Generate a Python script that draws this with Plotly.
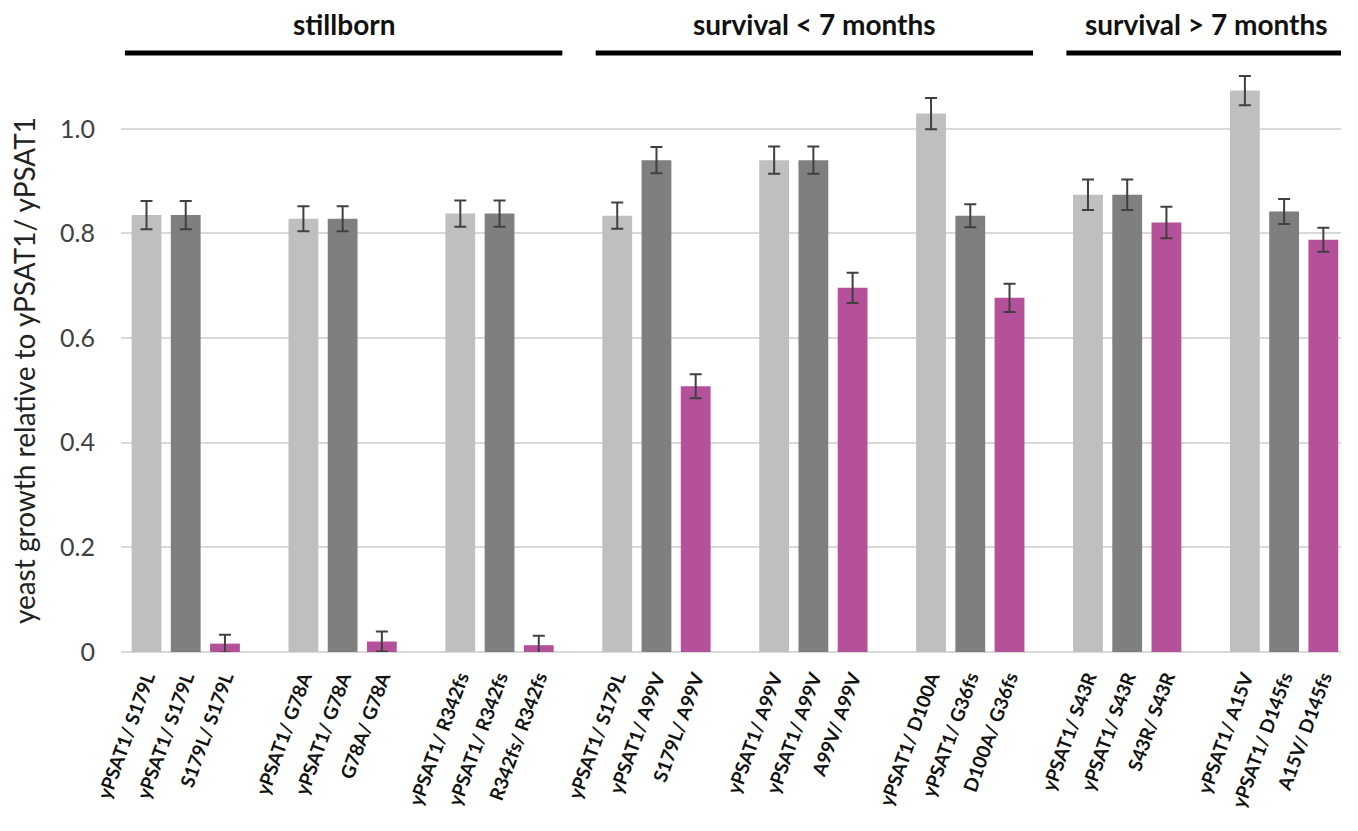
import plotly.graph_objects as go

# ---- data ----
wt_labels = ["yPSAT1/ S179L", "yPSAT1/ G78A", "yPSAT1/ R342fs", "yPSAT1/ S179L",
             "yPSAT1/ A99V", "yPSAT1/ D100A", "yPSAT1/ S43R", "yPSAT1/ A15V"]
het_labels = ["yPSAT1/ S179L", "yPSAT1/ G78A", "yPSAT1/ R342fs", "yPSAT1/ A99V",
              "yPSAT1/ A99V", "yPSAT1/ G36fs", "yPSAT1/ S43R", "yPSAT1/ D145fs"]
mut_labels = ["S179L/ S179L", "G78A/ G78A", "R342fs/ R342fs", "S179L/ A99V",
              "A99V/ A99V", "D100A/ G36fs", "S43R/ S43R", "A15V/ D145fs"]

light_vals = [0.835, 0.828, 0.838, 0.834, 0.940, 1.029, 0.874, 1.073]
light_err = [0.027, 0.024, 0.025, 0.025, 0.026, 0.030, 0.029, 0.028]
dark_vals = [0.835, 0.828, 0.838, 0.940, 0.940, 0.834, 0.874, 0.842]
dark_err = [0.027, 0.024, 0.025, 0.025, 0.026, 0.022, 0.029, 0.024]
pink_vals = [0.016, 0.020, 0.013, 0.508, 0.696, 0.677, 0.821, 0.788]
pink_err = [0.017, 0.019, 0.018, 0.023, 0.029, 0.027, 0.030, 0.023]

header_names = ["stillborn", "survival < 7 months", "survival > 7 months"]
header_group_counts = [3, 3, 2]

y_title = "yeast growth relative to yPSAT1/ yPSAT1"
y_tickvals = [0, 0.2, 0.4, 0.6, 0.8, 1.0]
y_ticktext = ["0", "0.2", "0.4", "0.6", "0.8", "1.0"]

# ---- layout helpers ----
SLOT = 4  # 3 bars + 1 gap per group
n = len(light_vals)
x_light = [SLOT * g + 0 for g in range(n)]
x_dark = [SLOT * g + 1 for g in range(n)]
x_pink = [SLOT * g + 2 for g in range(n)]
BW = 0.76
FONT = "Lato, 'Open Sans', sans-serif"

def bar(x, y, err, color):
    return go.Bar(
        x=x, y=y, width=BW,
        marker=dict(color=color, line=dict(width=0)),
        error_y=dict(type="data", array=err, visible=True,
                     color="#404040", thickness=2, width=6),
        showlegend=False, hoverinfo="y",
    )

fig = go.Figure()
fig.add_trace(bar(x_light, light_vals, light_err, "#bfbfbf"))
fig.add_trace(bar(x_dark, dark_vals, dark_err, "#7f7f7f"))
fig.add_trace(bar(x_pink, pink_vals, pink_err, "#b5509a"))

tickvals = []
ticktext = []
for g in range(n):
    tickvals += [x_light[g], x_dark[g], x_pink[g]]
    ticktext += [f"<b>{wt_labels[g]}</b>", f"<b>{het_labels[g]}</b>",
                 f"<b>{mut_labels[g]}</b>"]

# header lines and labels
shapes = []
annotations = []
start_group = 0
for name, cnt in zip(header_names, header_group_counts):
    x0 = SLOT * start_group - 0.55
    x1 = SLOT * (start_group + cnt - 1) + 2 + 0.6
    shapes.append(dict(type="line", xref="x", yref="paper", x0=x0, x1=x1,
                       y0=1.022, y1=1.022, line=dict(color="black", width=5)))
    annotations.append(dict(text=f"<b>{name}</b>", xref="x", yref="paper",
                            x=(x0 + x1) / 2, y=1.072, showarrow=False,
                            font=dict(size=28, color="#111", family=FONT),
                            xanchor="center", yanchor="middle"))
    start_group += cnt

# y-axis title as rotated annotation
annotations.append(dict(text=y_title, xref="paper", yref="paper",
                        x=-0.08, y=0.48, textangle=-90, showarrow=False,
                        xanchor="center", yanchor="middle",
                        font=dict(size=28, color="#222", family=FONT)))

fig.update_layout(
    width=1358, height=831,
    margin=dict(l=113, r=25, t=58, b=187),
    paper_bgcolor="white", plot_bgcolor="white",
    barmode="overlay",
    shapes=shapes, annotations=annotations,
    font=dict(family=FONT),
)
fig.update_xaxes(
    range=[-0.65, SLOT * (n - 1) + 2 + 0.45],
    tickmode="array", tickvals=tickvals, ticktext=ticktext,
    tickangle=-70, tickfont=dict(size=19, color="#111", family=FONT),
    showgrid=False, zeroline=False, showline=False, ticks="",
    ticklabelstandoff=10, automargin=False,
)
fig.update_yaxes(
    range=[0, 1.12],
    tickmode="array", tickvals=y_tickvals, ticktext=y_ticktext,
    tickfont=dict(size=25, color="#404040", family=FONT),
    showgrid=True, gridcolor="#d9d9d9", gridwidth=2,
    zeroline=True, zerolinecolor="#d9d9d9", zerolinewidth=2,
    showline=False, ticks="", ticklabelstandoff=25, automargin=False,
)

fig.write_html("out.html")
